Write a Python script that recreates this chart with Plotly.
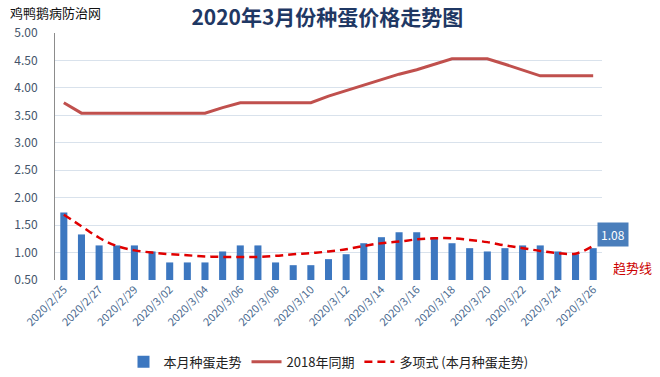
import plotly.graph_objects as go

dates = ["2020/2/25", "2020/2/26", "2020/2/27", "2020/2/28", "2020/2/29",
         "2020/3/01", "2020/3/02", "2020/3/03", "2020/3/04", "2020/3/05",
         "2020/3/06", "2020/3/07", "2020/3/08", "2020/3/09", "2020/3/10",
         "2020/3/11", "2020/3/12", "2020/3/13", "2020/3/14", "2020/3/15",
         "2020/3/16", "2020/3/17", "2020/3/18", "2020/3/19", "2020/3/20",
         "2020/3/21", "2020/3/22", "2020/3/23", "2020/3/24", "2020/3/25",
         "2020/3/26"]

price_2020 = [1.73, 1.33, 1.13, 1.13, 1.13, 1.02, 0.82, 0.82, 0.82, 1.02,
              1.13, 1.13, 0.82, 0.77, 0.77, 0.88, 0.97, 1.17, 1.28, 1.37,
              1.37, 1.28, 1.17, 1.08, 1.02, 1.08, 1.13, 1.13, 1.02, 0.97,
              1.08]

price_2018 = [3.73, 3.54, 3.54, 3.54, 3.54, 3.54, 3.54, 3.54, 3.54, 3.64,
              3.73, 3.73, 3.73, 3.73, 3.73, 3.85, 3.95, 4.05, 4.15, 4.25,
              4.33, 4.43, 4.53, 4.53, 4.53, 4.43, 4.33, 4.22, 4.22, 4.22,
              4.22]

trend = [1.69, 1.48, 1.27, 1.12, 1.04, 1.00, 0.97, 0.95, 0.93, 0.92,
         0.92, 0.92, 0.94, 0.97, 0.99, 1.02, 1.06, 1.12, 1.17, 1.20,
         1.24, 1.26, 1.26, 1.23, 1.19, 1.13, 1.08, 1.03, 0.99, 0.98,
         1.12]

y_ticks = [0.5, 1.0, 1.5, 2.0, 2.5, 3.0, 3.5, 4.0, 4.5, 5.0]
x_ticks = dates[::2]

font_cjk = "Noto Sans CJK SC, Noto Sans, sans-serif"
axis_color = "#44546a"

fig = go.Figure()
fig.add_trace(go.Bar(
    x=dates, y=price_2020, name="本月种蛋走势",
    marker=dict(color="#3c77c0", line=dict(width=0)),
))
fig.add_trace(go.Scatter(
    x=dates, y=price_2018, name="2018年同期", mode="lines",
    line=dict(color="#c0504d", width=3),
))
fig.add_trace(go.Scatter(
    x=dates, y=trend, name="多项式 (本月种蛋走势)", mode="lines",
    line=dict(color="#e00000", width=2.5, dash="8px,5px", shape="spline"),
))

fig.update_layout(
    width=660, height=377,
    margin=dict(l=55, r=58, t=33, b=97, autoexpand=False),
    paper_bgcolor="white", plot_bgcolor="white",
    font=dict(family=font_cjk, color=axis_color, size=11),
    bargap=0.6,
    showlegend=True,
    legend=dict(orientation="h", x=0.5, xanchor="center",
                yref="container", y=0.04, yanchor="middle",
                font=dict(size=13, color="#222222"), traceorder="normal"),
    title=dict(text="<b>2020年3月份种蛋价格走势图</b>", x=0.496, xanchor="center",
               yref="container", y=0.953, yanchor="middle",
               font=dict(size=21, color="#1f3864", family=font_cjk)),
)
fig.update_xaxes(
    type="category", tickmode="array", tickvals=x_ticks, ticktext=x_ticks,
    range=[-0.5, len(dates) - 0.5],
    tickangle=-45, showgrid=False, showline=False, ticks="",
    automargin=False,
    tickfont=dict(size=11, color="#4a6a90"),
)
fig.update_yaxes(
    range=[0.5, 5.0], tickmode="array", tickvals=y_ticks,
    tickformat=".2f", showgrid=True, gridcolor="#d9e2ec", gridwidth=1,
    showline=True, linecolor="#8c8c8c", linewidth=1, zeroline=False,
    ticks="", ticklabelstandoff=14, automargin=False,
    tickfont=dict(size=12, color=axis_color),
)

fig.add_annotation(
    text="鸡鸭鹅病防治网", xref="paper", yref="paper", x=-0.086, y=1.083,
    xanchor="left", yanchor="middle", showarrow=False,
    font=dict(size=13, color="#111111"),
)
fig.add_annotation(
    text="1.08", xref="x", yref="y", x=dates[-1], y=1.32,
    xanchor="left", yanchor="middle", xshift=4, showarrow=False,
    bgcolor="#4a7ebb", borderpad=3,
    font=dict(size=12, color="white"),
)
fig.add_annotation(
    text="趋势线", xref="x", yref="y", x=dates[-1], y=0.73,
    xanchor="left", yanchor="middle", xshift=18, showarrow=False,
    font=dict(size=13, color="#cc0000"),
)

fig.write_html("out.html", config={"displayModeBar": False},
               post_script="document.body.style.margin='0px';")
